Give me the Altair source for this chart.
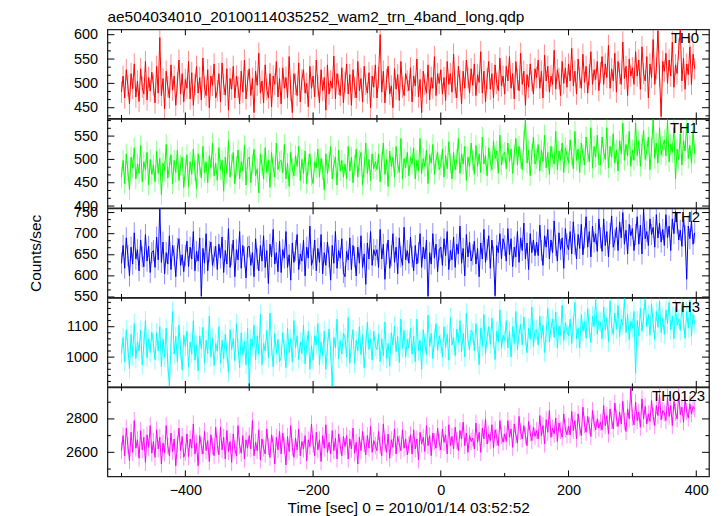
import altair as alt
import pandas as pd

TITLE = "ae504034010_20100114035252_wam2_trn_4band_long.qdp"
X_TITLE = "Time [sec] 0 = 2010/01/14 03:52:52"
Y_TITLE = "Counts/sec"

T_START = -500
T_STEP = 2.5

NAMES = ["TH0", "TH1", "TH2", "TH3", "TH0123"]
COLORS = ["#ff0000", "#00ff00", "#0000ff", "#00ffff", "#ff00ff"]
ERRORS = [22, 22, 25, 32, 51]

TH0 = [
    482, 515, 470, 528, 495, 458, 520, 489, 540, 472, 505, 463, 530, 492, 478, 545, 466, 512, 484, 523,
    497, 460, 535, 480, 594, 475, 510, 448, 525, 493, 470, 538, 486, 515, 455, 502, 548, 478, 520, 462,
    508, 490, 545, 468, 522, 455, 498, 535, 480, 512, 466, 552, 492, 475, 528, 450, 515, 496, 540, 470,
    485, 520, 462, 542, 498, 476, 530, 445, 510, 488, 535, 470, 515, 492, 458, 525, 482, 548, 468, 505,
    530, 475, 510, 440, 525, 496, 562, 480, 505, 460, 538, 488, 470, 520, 452, 515, 498, 545, 472, 510,
    458, 532, 490, 512, 470, 555, 485, 440, 520, 498, 475, 542, 462, 508, 528, 480, 500, 452, 535, 490,
    515, 472, 548, 495, 460, 528, 485, 512, 445, 538, 478, 505, 490, 556, 468, 520, 498, 475, 532, 460,
    502, 540, 478, 518, 455, 528, 492, 470, 545, 485, 510, 462, 535, 498, 480, 522, 450, 515, 492, 538,
    470, 512, 600, 482, 525, 460, 508, 535, 478, 495, 450, 530, 488, 518, 465, 545, 492, 475, 520, 505,
    485, 532, 462, 515, 495, 550, 472, 508, 440, 525, 498, 480, 538, 466, 512, 490, 555, 475, 520, 500,
    528, 478, 512, 465, 545, 498, 520, 482, 560, 492, 470, 535, 505, 458, 525, 490, 548, 512, 480, 530,
    496, 540, 475, 518, 502, 565, 480, 525, 462, 510, 545, 488, 520, 470, 538, 500, 485, 552, 495, 515,
    478, 535, 505, 555, 490, 520, 468, 545, 508, 485, 562, 498, 525, 455, 518, 492, 540, 505, 478, 530,
    512, 548, 490, 525, 470, 558, 505, 535, 482, 515, 498, 568, 488, 528, 510, 475, 545, 500, 532, 492,
    540, 505, 572, 495, 525, 478, 550, 512, 490, 560, 502, 535, 480, 518, 565, 498, 528, 508, 545, 485,
    522, 555, 498, 540, 512, 578, 490, 530, 505, 562, 482, 545, 520, 498, 585, 510, 535, 475, 550, 515,
    532, 498, 565, 515, 548, 488, 575, 520, 505, 555, 470, 540, 512, 590, 498, 530, 608, 515, 432, 545,
    525, 562, 500, 548, 515, 585, 492, 538, 520, 570, 611, 505, 552, 488, 540, 518, 575, 498, 560, 530,
]

TH1 = [
    462, 498, 448, 512, 475, 435, 505, 482, 525, 458, 490, 470, 530, 452, 495, 478, 515, 445, 500, 468,
    488, 452, 518, 470, 502, 425, 492, 475, 532, 460, 485, 510, 448, 498, 472, 520, 455, 488, 505, 440,
    478, 510, 442, 495, 468, 522, 475, 438, 512, 485, 460, 528, 472, 495, 450, 508, 482, 535, 465, 492,
    455, 525, 478, 498, 432, 505, 470, 540, 462, 490, 515, 448, 485, 520, 458, 495, 475, 530, 445, 500,
    505, 450, 490, 522, 465, 480, 428, 512, 488, 458, 525, 472, 498, 440, 515, 482, 462, 535, 478, 495,
    498, 472, 532, 458, 492, 442, 515, 480, 465, 508, 485, 528, 455, 500, 470, 518, 448, 490, 512, 465,
    448, 495, 482, 522, 462, 502, 478, 435, 512, 470, 495, 528, 458, 488, 505, 445, 520, 475, 498, 462,
    490, 458, 528, 475, 505, 450, 488, 522, 462, 498, 515, 445, 482, 535, 470, 500, 455, 512, 480, 495,
    478, 512, 452, 495, 535, 468, 500, 442, 518, 485, 505, 462, 528, 490, 472, 545, 458, 502, 482, 515,
    465, 505, 490, 525, 458, 498, 475, 545, 470, 502, 485, 520, 448, 510, 492, 532, 468, 498, 515, 478,
    488, 522, 462, 508, 480, 538, 492, 458, 515, 478, 500, 545, 470, 512, 490, 528, 455, 505, 485, 535,
    498, 468, 530, 485, 512, 472, 548, 490, 508, 465, 525, 495, 478, 540, 502, 518, 470, 552, 488, 510,
    515, 480, 535, 495, 522, 470, 510, 545, 488, 528, 502, 478, 540, 585, 492, 520, 465, 512, 548, 490,
    502, 532, 475, 520, 495, 552, 482, 515, 468, 528, 505, 490, 560, 478, 518, 498, 535, 472, 525, 508,
    492, 542, 508, 480, 560, 498, 522, 472, 535, 510, 488, 548, 515, 495, 568, 482, 528, 505, 552, 490,
    488, 548, 515, 500, 568, 482, 528, 505, 555, 492, 520, 475, 540, 512, 578, 498, 532, 508, 560, 485,
    520, 498, 578, 508, 540, 485, 530, 562, 500, 518, 548, 478, 525, 585, 502, 535, 492, 568, 510, 528,
    542, 508, 585, 495, 532, 515, 568, 458, 522, 500, 555, 488, 540, 518, 575, 502, 530, 492, 562, 512,
]

TH2 = [
    630, 672, 618, 690, 648, 600, 668, 628, 702, 640, 662, 612, 685, 645, 622, 698, 635, 670, 608, 655,
    660, 620, 692, 638, 758, 632, 680, 605, 655, 628, 695, 615, 672, 648, 598, 665, 688, 625, 650, 610,
    648, 682, 622, 668, 640, 705, 612, 658, 635, 690, 552, 665, 630, 700, 612, 658, 680, 625, 645, 670,
    615, 675, 642, 692, 608, 660, 628, 712, 620, 650, 685, 598, 662, 638, 705, 618, 672, 645, 595, 668,
    670, 625, 655, 598, 688, 640, 612, 672, 635, 695, 620, 660, 582, 675, 645, 710, 628, 655, 610, 682,
    608, 662, 642, 705, 620, 650, 590, 678, 632, 660, 698, 615, 652, 635, 685, 600, 668, 642, 718, 625,
    640, 685, 612, 665, 632, 698, 605, 655, 625, 680, 645, 590, 672, 630, 705, 618, 660, 642, 688, 608,
    598, 658, 638, 690, 615, 672, 645, 600, 668, 630, 695, 620, 652, 580, 678, 640, 705, 625, 662, 648,
    662, 620, 710, 640, 675, 592, 652, 685, 618, 648, 700, 632, 668, 605, 690, 645, 625, 715, 638, 660,
    630, 692, 645, 612, 672, 628, 655, 700, 620, 668, 640, 685, 552, 655, 628, 700, 642, 675, 610, 662,
    668, 625, 688, 648, 705, 615, 660, 638, 692, 620, 675, 652, 718, 630, 665, 600, 698, 645, 680, 635,
    650, 682, 628, 665, 598, 678, 640, 710, 632, 662, 695, 618, 685, 645, 553, 672, 655, 700, 640, 688,
    672, 635, 712, 650, 688, 622, 668, 645, 705, 632, 690, 660, 725, 640, 678, 615, 700, 655, 685, 648,
    680, 648, 720, 660, 625, 695, 668, 710, 640, 685, 655, 730, 672, 635, 702, 662, 690, 618, 712, 675,
    662, 705, 652, 728, 675, 640, 698, 665, 722, 650, 690, 740, 668, 705, 645, 718, 680, 700, 658, 735,
    690, 658, 735, 672, 705, 645, 700, 742, 668, 685, 715, 660, 728, 690, 750, 675, 708, 652, 722, 695,
    712, 660, 698, 740, 675, 720, 652, 758, 688, 705, 672, 735, 698, 715, 668, 745, 690, 725, 680, 710,
    672, 745, 690, 718, 660, 735, 700, 752, 725, 685, 708, 670, 740, 695, 592, 718, 688, 730, 675, 702,
]

TH3 = [
    1010, 1065, 985, 1090, 1030, 962, 1075, 1005, 1110, 995, 1050, 1020, 1088, 975, 1040, 1120, 998, 1060, 1015, 1082,
    1045, 990, 1080, 1020, 1100, 968, 1060, 1000, 1095, 978, 905, 1040, 1150, 1010, 1068, 985, 1105, 1025, 958, 1072,
    1035, 1085, 968, 1050, 1010, 1120, 990, 1040, 955, 1070, 1028, 1098, 980, 1055, 1012, 1135, 1000, 1062, 972, 1045,
    1020, 1100, 980, 1055, 995, 1075, 1015, 950, 1090, 1025, 1062, 988, 1110, 1030, 965, 1080, 1008, 1052, 975, 1095,
    905, 1060, 1035, 1105, 990, 1070, 1010, 1140, 975, 1045, 1020, 1088, 998, 1145, 1035, 968, 1078, 1012, 1058, 985,
    1000, 1080, 1025, 965, 1095, 1015, 1060, 985, 1120, 1030, 1070, 992, 1050, 1012, 1105, 978, 1042, 1085, 960, 1038,
    990, 1070, 1040, 1110, 975, 1050, 1005, 1085, 960, 1035, 1092, 1018, 905, 1065, 1030, 1125, 995, 1055, 1010, 1078,
    1065, 1000, 1130, 980, 1045, 1090, 980, 1055, 1020, 1100, 1008, 1072, 965, 1040, 1115, 1025, 1060, 990, 1085, 1035,
    1025, 1075, 985, 1060, 1005, 1115, 995, 1045, 970, 1080, 1040, 1102, 1018, 1068, 982, 1125, 1030, 1088, 1000, 1058,
    1030, 1095, 1010, 1070, 985, 1125, 1020, 1055, 960, 1090, 1045, 1008, 1138, 1035, 1078, 995, 1062, 1110, 1022, 1070,
    1045, 1000, 1100, 1030, 1075, 990, 1130, 1040, 1065, 1005, 1092, 1048, 1120, 1018, 1078, 1000, 1145, 1055, 1025, 1088,
    1080, 1020, 1110, 1050, 975, 1095, 1035, 1140, 1010, 1065, 1100, 1042, 1128, 1060, 992, 1085, 1050, 1155, 1030, 1072,
    1055, 1120, 1030, 1085, 1000, 1100, 1045, 1150, 1025, 1075, 1108, 1040, 1132, 1068, 1015, 1095, 1058, 1165, 1035, 1088,
    1090, 1040, 1135, 1060, 1105, 1015, 1080, 1160, 1050, 1095, 1125, 1065, 1148, 1030, 1102, 1072, 1170, 1055, 1112, 1085,
    1070, 1125, 1045, 1110, 1180, 1060, 1095, 1030, 1140, 1085, 1118, 1062, 1160, 1092, 1048, 1135, 1100, 1190, 1075, 1120,
    1115, 1060, 1165, 1090, 1130, 1050, 1185, 1100, 1075, 1145, 1092, 1170, 1068, 1125, 1105, 1192, 1080, 1140, 1058, 1118,
    1095, 1150, 947, 1120, 1070, 1160, 1085, 1130, 1190, 1100, 1140, 1072, 1175, 1110, 1058, 1150, 1098, 1185, 1080, 1128,
    1075, 1155, 1110, 1180, 1090, 1135, 1060, 1165, 1105, 1125, 1088, 1172, 1118, 1062, 1150, 1095, 1188, 1070, 1140, 1108,
]

TH0123 = [
    2610, 2700, 2580, 2745, 2640, 2550, 2720, 2600, 2790, 2625, 2675, 2565, 2730, 2615, 2690, 2540, 2705, 2630, 2760, 2595,
    2665, 2570, 2735, 2620, 2690, 2530, 2655, 2595, 2760, 2640, 2580, 2715, 2605, 2680, 2520, 2650, 2745, 2610, 2695, 2570,
    2600, 2710, 2575, 2680, 2625, 2770, 2590, 2655, 2520, 2700, 2640, 2590, 2725, 2610, 2670, 2545, 2705, 2635, 2580, 2750,
    2645, 2585, 2750, 2615, 2690, 2560, 2730, 2605, 2665, 2540, 2710, 2620, 2580, 2760, 2640, 2595, 2700, 2560, 2675, 2625,
    2700, 2620, 2790, 2580, 2660, 2610, 2735, 2555, 2680, 2625, 2590, 2740, 2635, 2570, 2705, 2650, 2530, 2690, 2615, 2725,
    2590, 2715, 2640, 2525, 2695, 2605, 2760, 2630, 2570, 2685, 2615, 2740, 2580, 2665, 2620, 2700, 2550, 2675, 2635, 2770,
    2650, 2580, 2720, 2615, 2675, 2545, 2700, 2625, 2765, 2600, 2660, 2590, 2730, 2610, 2685, 2560, 2710, 2640, 2580, 2695,
    2635, 2700, 2560, 2680, 2620, 2745, 2595, 2660, 2530, 2690, 2610, 2725, 2650, 2585, 2700, 2625, 2755, 2600, 2670, 2640,
    2610, 2725, 2640, 2580, 2770, 2655, 2600, 2710, 2565, 2675, 2630, 2740, 2590, 2695, 2650, 2610, 2735, 2625, 2680, 2585,
    2645, 2705, 2590, 2735, 2620, 2680, 2555, 2720, 2650, 2690, 2605, 2760, 2640, 2700, 2580, 2715, 2665, 2625, 2745, 2660,
    2615, 2740, 2660, 2705, 2590, 2765, 2640, 2695, 2620, 2750, 2670, 2610, 2730, 2680, 2780, 2640, 2715, 2600, 2700, 2665,
    2685, 2620, 2775, 2660, 2720, 2600, 2745, 2680, 2800, 2650, 2710, 2670, 2765, 2625, 2735, 2690, 2640, 2790, 2700, 2660,
    2710, 2665, 2790, 2690, 2740, 2630, 2770, 2705, 2655, 2815, 2725, 2680, 2760, 2700, 2640, 2785, 2715, 2670, 2750, 2695,
    2730, 2680, 2820, 2700, 2760, 2650, 2795, 2720, 2850, 2690, 2745, 2710, 2805, 2665, 2775, 2730, 2690, 2830, 2740, 2705,
    2755, 2705, 2845, 2730, 2790, 2680, 2830, 2750, 2700, 2870, 2765, 2720, 2815, 2760, 2695, 2850, 2775, 2735, 2800, 2745,
    2780, 2735, 2880, 2760, 2820, 2710, 2860, 2790, 2740, 2895, 2805, 2755, 2840, 2770, 2905, 2785, 2725, 2860, 2800, 2985,
    2810, 2765, 2900, 2790, 2840, 2750, 2920, 2800, 2875, 2770, 2830, 2785, 2910, 2815, 2760, 2880, 2820, 2945, 2795, 2850,
    2835, 2790, 2930, 2815, 2880, 2760, 2905, 2840, 2800, 2950, 2825, 2870, 2780, 2915, 2845, 2805, 2890, 2830, 2875, 2860,
]

SERIES = [TH0, TH1, TH2, TH3, TH0123]

X_DOMAIN = [-522, 420]
X_MAJOR = [-400, -200, 0, 200, 400]
X_MINOR = [-500, -300, -100, 100, 300]

Y_DOMAINS = [[428, 611], [396, 587], [549, 760], [902, 1195], [2456, 2989]]
Y_MAJOR = [
    [450, 500, 550, 600],
    [400, 450, 500, 550],
    [550, 600, 650, 700, 750],
    [1000, 1100],
    [2600, 2800],
]
Y_MINOR = [
    [433.3, 466.7, 483.3, 516.7, 533.3, 566.7, 583.3],
    [416.7, 433.3, 466.7, 483.3, 516.7, 533.3, 566.7, 583.3],
    [566.7, 583.3, 616.7, 633.3, 666.7, 683.3, 716.7, 733.3],
    [920, 940, 960, 980, 1020, 1040, 1060, 1080, 1120, 1140, 1160, 1180],
    [2500, 2700, 2900],
]

W = 605
H = 89.6
FONT = "Liberation Sans"
LABEL_GAP = [10, 11, 9, 9, 4]


def panel(i):
    n = len(SERIES[i])
    df = pd.DataFrame({"t": [T_START + T_STEP * k for k in range(n)], "v": SERIES[i]})
    df["lo"] = df["v"] - ERRORS[i]
    df["hi"] = df["v"] + ERRORS[i]
    color = COLORS[i]
    xs = alt.Scale(domain=X_DOMAIN, nice=False, zero=False)
    ys = alt.Scale(domain=Y_DOMAINS[i], nice=False, zero=False)

    if i == 4:
        xaxis = alt.Axis(values=X_MAJOR, title=X_TITLE, ticks=False, domain=False,
                         grid=False, labelPadding=7, titlePadding=4, format="d",
                         labelFlush=False, labelFontSize=14.5, titleFontSize=15.5)
    else:
        xaxis = None
    yargs = dict(values=Y_MAJOR[i], ticks=False, domain=False, grid=False,
                 labelPadding=10, labelOverlap=False, labelFlush=False, labelBound=False,
                 labelFontSize=14.5, format="d")
    if i == 2:
        yaxis = alt.Axis(title=Y_TITLE, titlePadding=30, titleFontSize=15.5, **yargs)
    else:
        yaxis = alt.Axis(title=None, **yargs)

    def X(field):
        return alt.X(field, type="quantitative", scale=xs, axis=xaxis)

    def Y(field):
        return alt.Y(field, type="quantitative", scale=ys, axis=yaxis)

    err = alt.Chart(df).mark_rule(color=color, opacity=0.45, strokeWidth=1, clip=True).encode(
        x=X("t"), y=Y("lo"), y2="hi:Q")
    line = alt.Chart(df).mark_line(color=color, strokeWidth=1, clip=True).encode(
        x=X("t"), y=Y("v"))

    ymaj = pd.DataFrame({"v": Y_MAJOR[i]})
    ymin = pd.DataFrame({"v": Y_MINOR[i]})
    xmaj = pd.DataFrame({"t": X_MAJOR})
    xmin = pd.DataFrame({"t": X_MINOR})
    tk = dict(color="black", strokeWidth=1)
    ticks = [
        alt.Chart(ymaj).mark_rule(**tk).encode(y=Y("v"), x=alt.value(0), x2=alt.value(7)),
        alt.Chart(ymaj).mark_rule(**tk).encode(y=Y("v"), x=alt.value(W), x2=alt.value(W - 7)),
        alt.Chart(ymin).mark_rule(**tk).encode(y=Y("v"), x=alt.value(0), x2=alt.value(3.5)),
        alt.Chart(ymin).mark_rule(**tk).encode(y=Y("v"), x=alt.value(W), x2=alt.value(W - 3.5)),
        alt.Chart(xmaj).mark_rule(**tk).encode(x=X("t"), y=alt.value(H), y2=alt.value(H - 6)),
        alt.Chart(xmaj).mark_rule(**tk).encode(x=X("t"), y=alt.value(0), y2=alt.value(6)),
        alt.Chart(xmin).mark_rule(**tk).encode(x=X("t"), y=alt.value(H), y2=alt.value(H - 3.5)),
        alt.Chart(xmin).mark_rule(**tk).encode(x=X("t"), y=alt.value(0), y2=alt.value(3.5)),
    ]
    label = alt.Chart(pd.DataFrame({"name": [NAMES[i]]})).mark_text(
        align="right", baseline="alphabetic", font=FONT, fontSize=15, color="black"
    ).encode(text="name:N", x=alt.value(W - LABEL_GAP[i]), y=alt.value(14))

    ch = alt.layer(err, line, *ticks, label).properties(width=W, height=H)
    if i == 0:
        ch = ch.properties(title=alt.TitleParams(TITLE, anchor="start", frame="group",
                                                 font=FONT, fontSize=15.5, fontWeight="normal",
                                                 offset=1, color="black"))
    return ch


chart = alt.vconcat(*[panel(i) for i in range(5)], spacing=0, bounds="flush").properties(
    padding={"left": 20, "top": 0, "right": 5, "bottom": 5}
).configure_view(
    stroke="#222222", strokeWidth=1.3
).configure_axis(
    labelFont=FONT, titleFont=FONT, labelColor="black", titleColor="black",
    titleFontWeight="normal"
).configure_concat(spacing=0)

chart.save("out.html", embed_options={"renderer": "svg", "actions": False})
